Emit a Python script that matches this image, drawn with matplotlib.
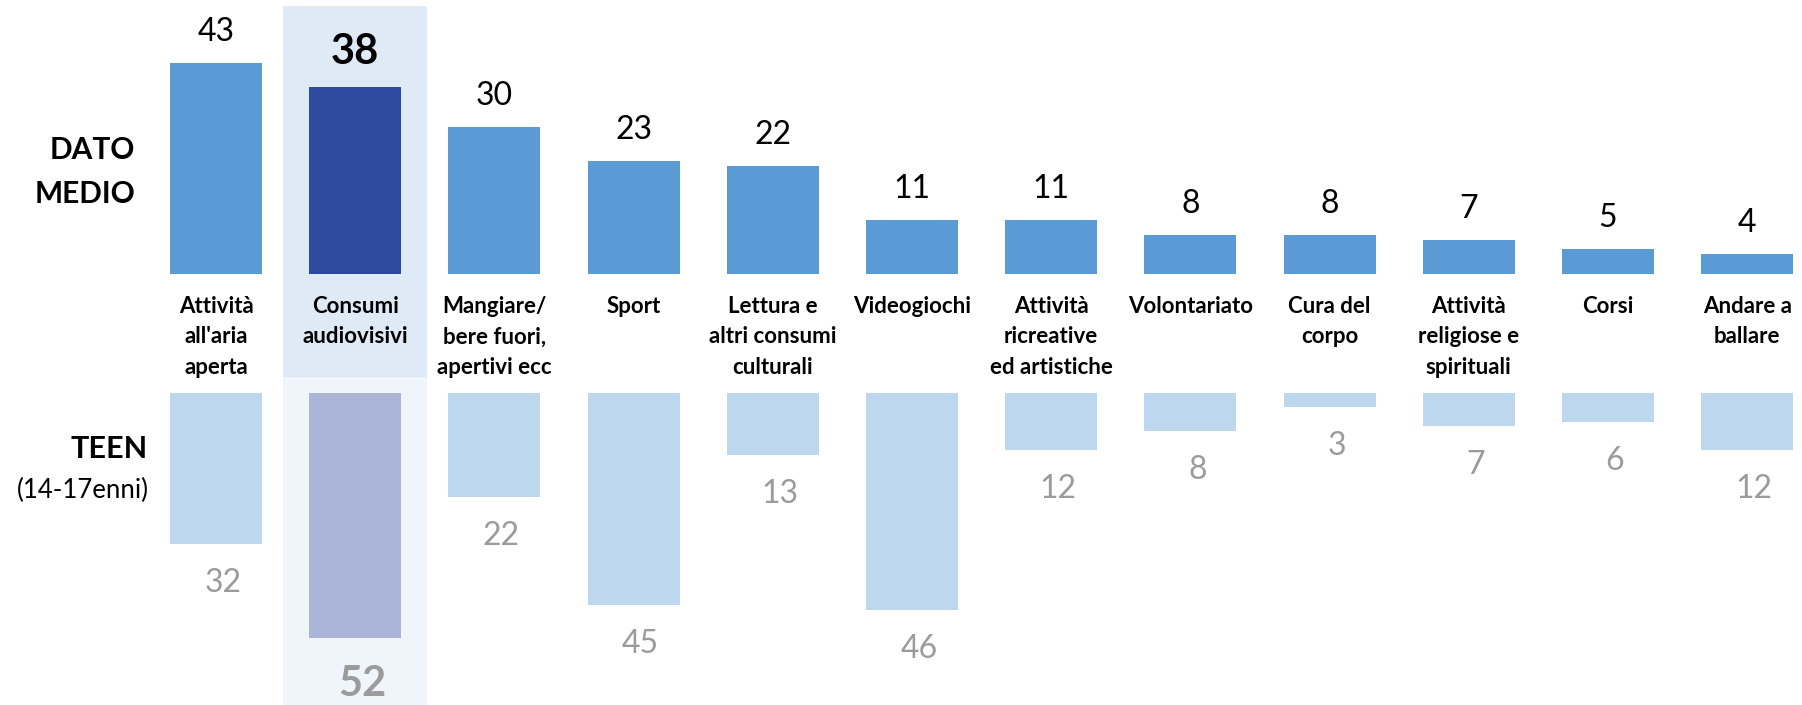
import matplotlib
matplotlib.use('Agg')
import matplotlib.pyplot as plt
import numpy as np

plt.rcParams['font.family'] = ['Lato', 'DejaVu Sans']

# Dati
categorie = [
    "Attività\nall'aria\naperta",
    "Consumi\naudiovisivi",
    "Mangiare/\nbere fuori,\napertivi ecc",
    "Sport",
    "Lettura e\naltri consumi\nculturali",
    "Videogiochi",
    "Attività\nricreative\ned artistiche",
    "Volontariato",
    "Cura del\ncorpo",
    "Attività\nreligiose e\nspirituali",
    "Corsi",
    "Andare a\nballare",
]
dato_medio = [43, 38, 30, 23, 22, 11, 11, 8, 8, 7, 5, 4]
teen = [32, 52, 22, 45, 13, 46, 12, 8, 3, 7, 6, 12]
evidenza = 1  # indice della categoria evidenziata

# Colori
col_top = '#5B9BD5'
col_top_hl = '#2E4A9E'
col_bot = '#BDD7EE'
col_bot_hl = '#ABB5D7'
col_bg_hl_top = '#DEEAF6'
col_bg_hl_bot = '#F0F5FB'
col_grey = '#9B9B9B'

W, H = 1802, 705
fig = plt.figure(figsize=(W / 100, H / 100), dpi=100)

x = np.arange(len(categorie))
passo = 139.2        # pixel tra le barre
x0 = 216             # centro della prima barra in pixel
xlim = (-x0 / passo, (W - x0) / passo)
larghezza = 92 / passo

# Sfondo per la colonna evidenziata
ax_bg = fig.add_axes([0, 0, 1, 1])
ax_bg.set_xlim(*xlim)
ax_bg.set_ylim(0, 1)
ax_bg.axis('off')
split = (H - 377) / H
ax_bg.axvspan(evidenza - 0.517, evidenza + 0.517, ymin=split, ymax=(H - 6) / H,
              color=col_bg_hl_top, lw=0)
ax_bg.axvspan(evidenza - 0.517, evidenza + 0.517, ymin=0, ymax=split,
              color=col_bg_hl_bot, lw=0)

# Pannello superiore: dato medio
base_top = 274
scala_top = 4.915
ax_top = fig.add_axes([0, (H - base_top) / H, 1, base_top / H])
ax_top.set_xlim(*xlim)
ax_top.set_ylim(0, base_top / scala_top)
ax_top.axis('off')
ax_top.patch.set_alpha(0)

colori_top = [col_top_hl if i == evidenza else col_top for i in x]
ax_top.bar(x, dato_medio, width=larghezza, color=colori_top, linewidth=0)

for i, v in zip(x, dato_medio):
    bold = i == evidenza
    ax_top.annotate(str(v), (i, v), xytext=(0, 22 if not bold else 23),
                    textcoords='offset pixels', ha='center', va='baseline',
                    fontsize=30 if bold else 23,
                    fontweight='bold' if bold else 'normal', color='black')

for i, lab in zip(x, categorie):
    ax_top.annotate(lab, (i, 0), xytext=(0, -22), textcoords='offset pixels',
                    ha='center', va='top', fontsize=16, fontweight='bold',
                    linespacing=1.55, color='black', annotation_clip=False)

# Pannello inferiore: teen
top_bot = 393.3
scala_bot = 4.71
ax_bot = fig.add_axes([0, 0, 1, (H - top_bot) / H])
ax_bot.set_xlim(*xlim)
ax_bot.set_ylim((H - top_bot) / scala_bot, 0)
ax_bot.axis('off')
ax_bot.patch.set_alpha(0)

colori_bot = [col_bot_hl if i == evidenza else col_bot for i in x]
ax_bot.bar(x, teen, width=larghezza, color=colori_bot, linewidth=0)

for i, v in zip(x, teen):
    bold = i == evidenza
    ax_bot.annotate(str(v), (i, v), xytext=(7, -58 if bold else -48),
                    textcoords='offset pixels', ha='center', va='baseline',
                    fontsize=30 if bold else 23,
                    fontweight='bold' if bold else 'normal', color=col_grey,
                    annotation_clip=False)

# Etichette di riga
fig.text(135 / W, 1 - 150 / H, 'DATO', ha='right', va='center',
         fontsize=21.5, fontweight='bold', color='black')
fig.text(135 / W, 1 - 194 / H, 'MEDIO', ha='right', va='center',
         fontsize=21.5, fontweight='bold', color='black')
fig.text(148 / W, 1 - 449 / H, 'TEEN', ha='right', va='center',
         fontsize=22, fontweight='bold', color='black')
fig.text(149 / W, 1 - 490 / H, '(14-17enni)', ha='right', va='center',
         fontsize=18.5, color='black')

plt.savefig('out.png', dpi=100, facecolor='white')
plt.close()
